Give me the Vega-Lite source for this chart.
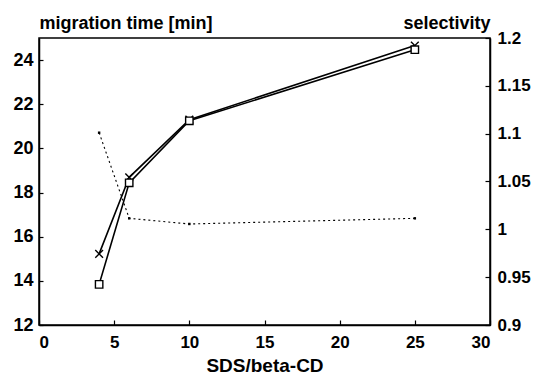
{
  "$schema": "https://vega.github.io/schema/vega-lite/v6.json",
  "width": 451,
  "height": 287,
  "autosize": {"type": "none"},
  "padding": {"left": 39, "top": 38, "right": 45, "bottom": 49},
  "background": "white",
  "config": {
    "view": {"stroke": "black", "strokeWidth": 1.5},
    "font": "Liberation Sans",
    "axis": {
      "grid": false,
      "domainColor": "black",
      "tickColor": "black",
      "labelColor": "black",
      "titleColor": "black",
      "labelFont": "Liberation Sans",
      "titleFont": "Liberation Sans",
      "labelFontSize": 17,
      "labelFontWeight": "bold",
      "titleFontSize": 18,
      "titleFontWeight": "bold",
      "domainWidth": 1.5,
      "tickWidth": 1.2
    }
  },
  "datasets": {
    "mt": [
      {"ratio": 4, "time": 15.22, "series": "x"},
      {"ratio": 6, "time": 18.69, "series": "x"},
      {"ratio": 10, "time": 21.3, "series": "x"},
      {"ratio": 25, "time": 24.66, "series": "x"},
      {"ratio": 4, "time": 13.84, "series": "sq"},
      {"ratio": 6, "time": 18.44, "series": "sq"},
      {"ratio": 10, "time": 21.25, "series": "sq"},
      {"ratio": 25, "time": 24.47, "series": "sq"}
    ],
    "sel": [
      {"ratio": 4, "selectivity": 1.101},
      {"ratio": 6, "selectivity": 1.0115},
      {"ratio": 10, "selectivity": 1.0056},
      {"ratio": 25, "selectivity": 1.0115}
    ]
  },
  "layer": [
    {
      "data": {"name": "mt"},
      "layer": [
        {
          "mark": {"type": "line", "color": "black", "strokeWidth": 1.6},
          "encoding": {
            "x": {"field": "ratio", "type": "quantitative",
              "scale": {"domain": [0, 30], "nice": false},
              "axis": {"values": [0, 5, 10, 15, 20, 25, 30], "tickSize": -5, "labelPadding": 14, "labelBaseline": "top", "title": "SDS/beta-CD", "titleFontSize": 19, "titleBaseline": "alphabetic", "titleY": 46}},
            "y": {"field": "time", "type": "quantitative",
              "scale": {"domain": [12, 25], "nice": false, "zero": false},
              "axis": {"values": [12, 14, 16, 18, 20, 22, 24], "tickSize": -4, "labelPadding": 10, "labelFontSize": 18, "title": "migration time [min]", "titleAngle": 0, "titleAlign": "left", "titleBaseline": "alphabetic", "titleX": 0, "titleY": -10}},
            "detail": {"field": "series"}
          }
        },
        {
          "transform": [{"filter": "datum.series === 'x'"}],
          "mark": {"type": "point", "shape": "M-1,-1L1,1M-1,1L1,-1", "size": 60, "filled": false, "color": "black", "strokeWidth": 1.4, "opacity": 1},
          "encoding": {
            "x": {"field": "ratio", "type": "quantitative"},
            "y": {"field": "time", "type": "quantitative"}
          }
        },
        {
          "transform": [{"filter": "datum.series === 'sq'"}],
          "mark": {"type": "point", "shape": "square", "size": 55, "filled": true, "fill": "white", "stroke": "black", "strokeWidth": 1.4, "opacity": 1},
          "encoding": {
            "x": {"field": "ratio", "type": "quantitative"},
            "y": {"field": "time", "type": "quantitative"}
          }
        }
      ]
    },
    {
      "data": {"name": "sel"},
      "layer": [
        {
          "mark": {"type": "line", "color": "black", "strokeWidth": 1.1, "strokeDash": [2, 3]},
          "encoding": {
            "x": {"field": "ratio", "type": "quantitative"},
            "y": {"field": "selectivity", "type": "quantitative",
              "scale": {"domain": [0.9, 1.2], "nice": false, "zero": false},
              "axis": {"orient": "right", "values": [0.9, 0.95, 1, 1.05, 1.1, 1.15, 1.2], "format": ".2~f", "tickSize": -5, "labelPadding": 12, "title": "selectivity", "titleAngle": 0, "titleAlign": "right", "titleBaseline": "alphabetic", "titleX": 0, "titleY": -10}}
          }
        },
        {
          "mark": {"type": "point", "shape": "square", "size": 6, "filled": true, "color": "black", "opacity": 1},
          "encoding": {
            "x": {"field": "ratio", "type": "quantitative"},
            "y": {"field": "selectivity", "type": "quantitative"}
          }
        }
      ]
    }
  ],
  "resolve": {"scale": {"y": "independent"}}
}
